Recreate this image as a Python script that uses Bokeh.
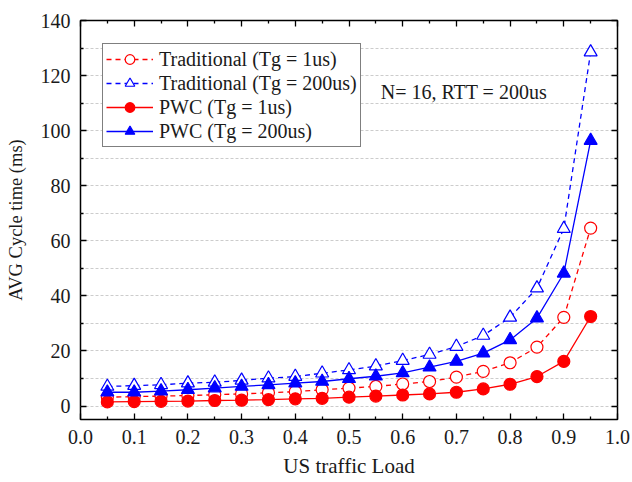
from bokeh.plotting import figure
from bokeh.models import (FixedTicker, LinearAxis, Range1d, Label, NumeralTickFormatter,
                          CustomJSTickFormatter)
from bokeh.embed import file_html
from bokeh.resources import INLINE

load = [0.05, 0.10, 0.15, 0.20, 0.25, 0.30, 0.35, 0.40, 0.45, 0.50,
        0.55, 0.60, 0.65, 0.70, 0.75, 0.80, 0.85, 0.90, 0.95]
trad_1us = [3.2, 3.4, 3.6, 3.8, 4.1, 4.4, 4.8, 5.2, 5.9, 6.5,
            7.1, 8.0, 8.9, 10.5, 12.6, 15.7, 21.4, 32.2, 64.6]
trad_200us = [7.1, 7.4, 7.7, 8.3, 8.6, 9.3, 10.1, 10.7, 11.9, 13.1,
              14.5, 16.5, 18.7, 21.6, 25.6, 32.2, 42.8, 64.4, 128.5]
pwc_1us = [1.5, 1.6, 1.7, 1.8, 2.0, 2.1, 2.3, 2.6, 2.8, 3.2,
           3.6, 4.0, 4.4, 5.0, 6.2, 7.9, 10.7, 16.2, 32.5]
pwc_200us = [5.0, 5.0, 5.4, 5.9, 6.5, 7.1, 7.7, 8.3, 8.9, 9.9,
             10.8, 12.0, 14.1, 16.2, 19.2, 24.0, 31.9, 48.2, 96.4]

x_ticks = [0.0, 0.1, 0.2, 0.3, 0.4, 0.5, 0.6, 0.7, 0.8, 0.9, 1.0]
x_minor = [0.05, 0.15, 0.25, 0.35, 0.45, 0.55, 0.65, 0.75, 0.85, 0.95]
y_ticks = [0, 20, 40, 60, 80, 100, 120, 140]
y_minor = [10, 30, 50, 70, 90, 110, 130]
y_grid = [0, 10, 20, 30, 40, 50, 60, 70, 80, 90, 100, 110, 120, 130]

FONT = "Liberation Serif"
RED = "#ff0000"
BLUE = "#0000ff"
TXT = "#1a1a1a"

p = figure(width=632, height=482, output_backend="svg", toolbar_location=None,
           x_range=Range1d(0, 1), y_range=Range1d(-4.9, 140),
           min_border_left=80, min_border_right=15, min_border_top=20,
           min_border_bottom=63, x_axis_label="US traffic Load",
           y_axis_label="AVG Cycle time (ms)")

p.outline_line_color = "black"
p.outline_line_width = 1.5
p.background_fill_color = "white"
p.border_fill_color = "white"

p.xgrid.visible = False
p.ygrid.ticker = FixedTicker(ticks=y_grid)
p.ygrid.grid_line_color = "#cccccc"
p.ygrid.grid_line_dash = "3 2"
p.ygrid.grid_line_width = 1


def style_axis(ax, ticks, minor, labels=True):
    ax.ticker = FixedTicker(ticks=ticks, minor_ticks=minor)
    ax.axis_line_color = None
    ax.major_tick_in = 6
    ax.major_tick_out = 0
    ax.minor_tick_in = 3
    ax.minor_tick_out = 0
    ax.major_tick_line_color = "black"
    ax.minor_tick_line_color = "black"
    ax.major_tick_line_width = 1.3
    ax.minor_tick_line_width = 1.3
    if labels:
        ax.major_label_text_font = FONT
        ax.major_label_text_font_size = "20px"
        ax.major_label_text_color = TXT
        ax.axis_label_text_font = FONT
        ax.axis_label_text_font_style = "normal"
        ax.axis_label_text_color = TXT
    else:
        ax.formatter = CustomJSTickFormatter(code="return ''")
        ax.major_label_standoff = 0


xa = p.xaxis[0]
style_axis(xa, x_ticks, x_minor)
xa.formatter = NumeralTickFormatter(format="0.0")
xa.major_label_standoff = 10
xa.axis_label_standoff = 7
xa.axis_label_text_font_size = "21px"

ya = p.yaxis[0]
style_axis(ya, y_ticks, y_minor)
ya.major_label_standoff = 10
ya.axis_label_standoff = 12
ya.axis_label_text_font_size = "18.5px"

top = LinearAxis()
style_axis(top, x_ticks, x_minor, labels=False)
p.add_layout(top, "above")
right = LinearAxis()
style_axis(right, y_ticks, y_minor, labels=False)
p.add_layout(right, "right")

# Traditional (Tg = 1us)
lab = "Traditional (Tg = 1us)"
p.line(load, trad_1us, line_color=RED, line_width=1.3, line_dash="5 4", legend_label=lab)
p.scatter(load, trad_1us, marker="circle", size=12, fill_color="white",
          line_color=RED, line_width=1.2, legend_label=lab)
# Traditional (Tg = 200us)
lab = "Traditional (Tg = 200us)"
p.line(load, trad_200us, line_color=BLUE, line_width=1.3, line_dash="5 4", legend_label=lab)
p.scatter(load, trad_200us, marker="triangle", size=13, fill_color="white",
          line_color=BLUE, line_width=1.2, legend_label=lab)
# PWC (Tg = 1us)
lab = "PWC (Tg = 1us)"
p.line(load, pwc_1us, line_color=RED, line_width=1.3, legend_label=lab)
p.scatter(load, pwc_1us, marker="circle", size=12, fill_color=RED,
          line_color=RED, line_width=1.2, legend_label=lab)
# PWC (Tg = 200us)
lab = "PWC (Tg = 200us)"
p.line(load, pwc_200us, line_color=BLUE, line_width=1.3, legend_label=lab)
p.scatter(load, pwc_200us, marker="triangle", size=13, fill_color=BLUE,
          line_color=BLUE, line_width=1.2, legend_label=lab)

lg = p.legend[0]
lg.location = (22, 272)
lg.label_text_font = FONT
lg.label_text_font_size = "20px"
lg.label_text_color = TXT
lg.glyph_width = 47
lg.glyph_height = 24
lg.label_height = 24
lg.spacing = 0
lg.padding = 3
lg.margin = 0
lg.label_standoff = 6
lg.border_line_color = "black"
lg.border_line_width = 1
lg.background_fill_alpha = 1

p.add_layout(Label(x=0.559, y=114.2, text="N= 16, RTT = 200us",
                   text_font=FONT, text_font_size="20px", text_color=TXT,
                   text_baseline="middle"))

open("out.html", "w").write(file_html(p, INLINE))
